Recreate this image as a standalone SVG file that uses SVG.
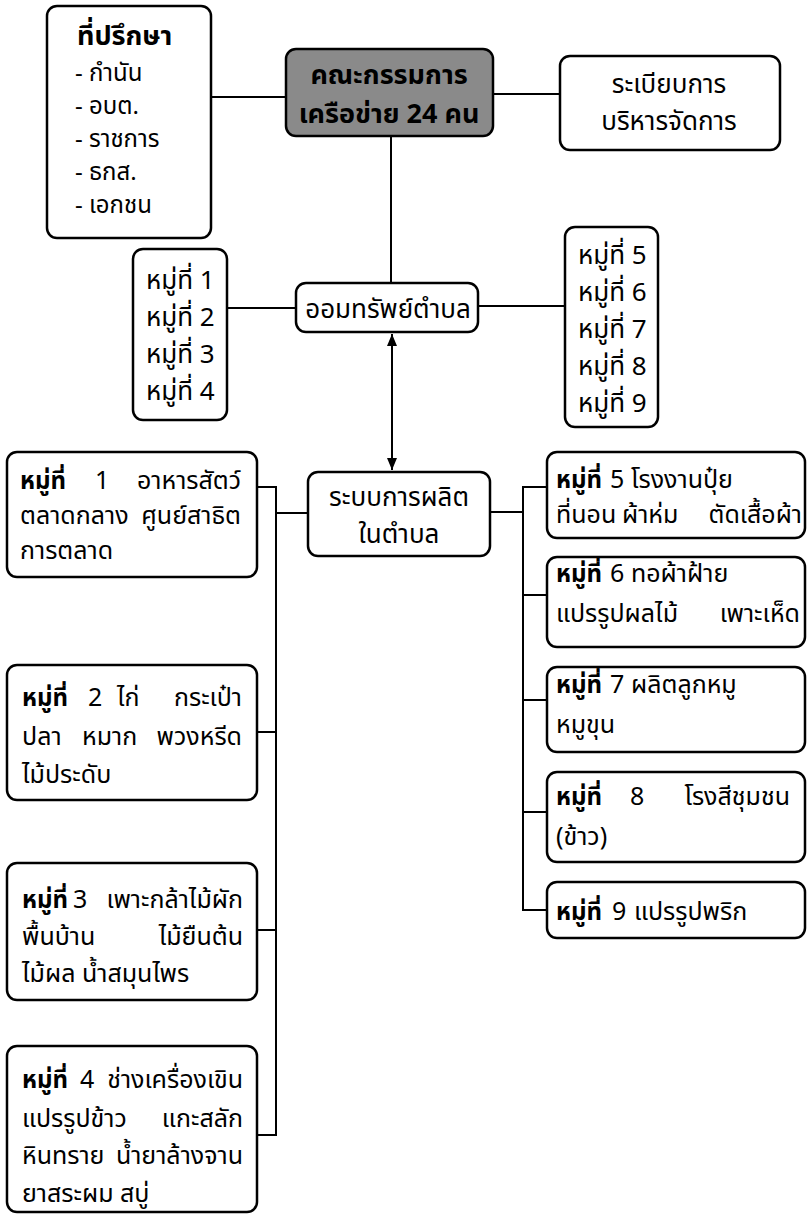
<svg xmlns="http://www.w3.org/2000/svg" width="809" height="1221" viewBox="0 0 809 1221">
<style>
.box{fill:#fff;stroke:#000;stroke-width:2.5}
.gray{fill:#8a8a8a;stroke:#000;stroke-width:2.5}
.ln{fill:none;stroke:#000;stroke-width:2}
text{font-family:"Noto Sans Thai","Noto Sans Thai UI","Noto Sans","Liberation Sans",sans-serif;font-size:25px;fill:#000}
.b{font-weight:bold;font-size:24px}
.m{text-anchor:middle}
.e{text-anchor:end}
.md{font-size:24px}
.lg{font-size:26px}
.xl{font-size:27px;font-weight:bold}
</style>
<defs>
<marker id="ah" viewBox="0 0 12 10" refX="12" refY="5" markerWidth="6" markerHeight="5" orient="auto-start-reverse">
<path d="M0,0 L12,5 L0,10 z" fill="#000"/>
</marker>
</defs>
<rect width="809" height="1221" fill="#fff"/>
<g id="connectors">
<line class="ln" x1="211" y1="97" x2="286" y2="97"/>
<line class="ln" x1="493" y1="94" x2="560" y2="94"/>
<line class="ln" x1="391" y1="136" x2="391" y2="283"/>
<line class="ln" x1="227" y1="308" x2="296" y2="308"/>
<line class="ln" x1="478" y1="306" x2="565" y2="306"/>
<line class="ln" x1="392" y1="334" x2="392" y2="470" marker-start="url(#ah)" marker-end="url(#ah)"/>
<path class="ln" d="M257,487 H276 V1135 H257 M257,732 H276 M257,930 H276 M276,513 H308"/>
<path class="ln" d="M490,512 H523 M547,487 H523 V910 H547 M523,595 H547 M523,700 H547 M523,812 H547"/>
</g>
<g id="advisors">
<rect class="box" x="47" y="6" width="164" height="232" rx="10"/>
<text class="xl" x="77" y="45">ที่ปรึกษา</text>
<text class="md" x="75" y="81">- กำนัน</text>
<text class="md" x="75" y="114">- อบต.</text>
<text class="md" x="75" y="147">- ราชการ</text>
<text class="md" x="75" y="180">- ธกส.</text>
<text class="md" x="75" y="213">- เอกชน</text>
</g>
<g id="committee">
<rect class="gray" x="286" y="49" width="207" height="87" rx="10"/>
<text class="xl m" x="389" y="84">คณะกรรมการ</text>
<text class="xl m" x="389" y="123">เครือข่าย 24 คน</text>
</g>
<g id="rules">
<rect class="box" x="560" y="56" width="220" height="94" rx="10"/>
<text class="m lg" x="669" y="93">ระเบียบการ</text>
<text class="m lg" x="669" y="130">บริหารจัดการ</text>
</g>
<g id="villages14">
<rect class="box" x="133" y="249" width="94" height="171" rx="10"/>
<text class="lg" x="146" y="289">หมู่ที่ 1</text>
<text class="lg" x="146" y="326">หมู่ที่ 2</text>
<text class="lg" x="146" y="363">หมู่ที่ 3</text>
<text class="lg" x="146" y="400">หมู่ที่ 4</text>
</g>
<g id="savings">
<rect class="box" x="296" y="283" width="182" height="49" rx="10"/>
<text class="m lg" x="388" y="318">ออมทรัพย์ตำบล</text>
</g>
<g id="villages59">
<rect class="box" x="565" y="227" width="93" height="200" rx="10"/>
<text class="lg" x="578" y="264">หมู่ที่ 5</text>
<text class="lg" x="578" y="301">หมู่ที่ 6</text>
<text class="lg" x="578" y="338">หมู่ที่ 7</text>
<text class="lg" x="578" y="375">หมู่ที่ 8</text>
<text class="lg" x="578" y="412">หมู่ที่ 9</text>
</g>
<g id="production">
<rect class="box" x="308" y="472" width="182" height="84" rx="10"/>
<text class="m lg" x="399" y="506">ระบบการผลิต</text>
<text class="m lg" x="399" y="543">ในตำบล</text>
</g>
<g id="m1">
<rect class="box" x="7" y="452" width="250" height="125" rx="10"/>
<text class="b" x="20" y="489">หมู่ที่</text>
<text x="95" y="489">1</text>
<text class="e" x="241" y="489">อาหารสัตว์</text>
<text x="20" y="524">ตลาดกลาง</text>
<text class="e" x="241" y="524">ศูนย์สาธิต</text>
<text x="20" y="559">การตลาด</text>
</g>
<g id="m2">
<rect class="box" x="7" y="665" width="250" height="135" rx="10"/>
<text class="b" x="22" y="706">หมู่ที่</text>
<text x="88" y="706">2</text>
<text x="117" y="706">ไก่</text>
<text class="e" x="242" y="706">กระเป๋า</text>
<text x="22" y="745">ปลา</text>
<text x="82" y="745">หมาก</text>
<text class="e" x="242" y="745">พวงหรีด</text>
<text x="22" y="783">ไม้ประดับ</text>
</g>
<g id="m3">
<rect class="box" x="7" y="863" width="250" height="137" rx="10"/>
<text class="b" x="22" y="908">หมู่ที่</text>
<text x="73" y="908">3</text>
<text class="e" x="243" y="908">เพาะกล้าไม้ผัก</text>
<text x="22" y="945">พื้นบ้าน</text>
<text class="e" x="243" y="945">ไม้ยืนต้น</text>
<text x="22" y="982">ไม้ผล น้ำสมุนไพร</text>
</g>
<g id="m4">
<rect class="box" x="7" y="1046" width="250" height="166" rx="10"/>
<text class="b" x="22" y="1088">หมู่ที่</text>
<text x="80" y="1088">4</text>
<text class="e" x="243" y="1088">ช่างเครื่องเขิน</text>
<text x="22" y="1127">แปรรูปข้าว</text>
<text class="e" x="243" y="1127">แกะสลัก</text>
<text x="22" y="1164">หินทราย</text>
<text class="e" x="243" y="1164">น้ำยาล้างจาน</text>
<text x="22" y="1202">ยาสระผม สบู่</text>
</g>
<g id="m5">
<rect class="box" x="547" y="452" width="258" height="86" rx="10"/>
<text class="b" x="556" y="488">หมู่ที่</text>
<text x="610" y="488">5</text>
<text x="631" y="488">โรงงานปุ๋ย</text>
<text x="556" y="523">ที่นอน</text>
<text x="622" y="523">ผ้าห่ม</text>
<text class="e" x="802" y="523">ตัดเสื้อผ้า</text>
</g>
<g id="m6">
<rect class="box" x="547" y="557" width="258" height="90" rx="10"/>
<text class="b" x="556" y="582">หมู่ที่</text>
<text x="610" y="582">6</text>
<text x="631" y="582">ทอผ้าฝ้าย</text>
<text x="556" y="622">แปรรูปผลไม้</text>
<text class="e" x="800" y="622">เพาะเห็ด</text>
</g>
<g id="m7">
<rect class="box" x="547" y="667" width="258" height="85" rx="10"/>
<text class="b" x="556" y="693">หมู่ที่</text>
<text x="610" y="693">7</text>
<text x="631" y="693">ผลิตลูกหมู</text>
<text x="556" y="733">หมูขุน</text>
</g>
<g id="m8">
<rect class="box" x="547" y="772" width="258" height="90" rx="10"/>
<text class="b" x="556" y="805">หมู่ที่</text>
<text x="630" y="805">8</text>
<text class="e" x="790" y="805">โรงสีชุมชน</text>
<text x="556" y="845">(ข้าว)</text>
</g>
<g id="m9">
<rect class="box" x="547" y="882" width="258" height="56" rx="10"/>
<text class="b" x="556" y="920">หมู่ที่</text>
<text x="612" y="920">9</text>
<text x="634" y="920">แปรรูปพริก</text>
</g>
</svg>
